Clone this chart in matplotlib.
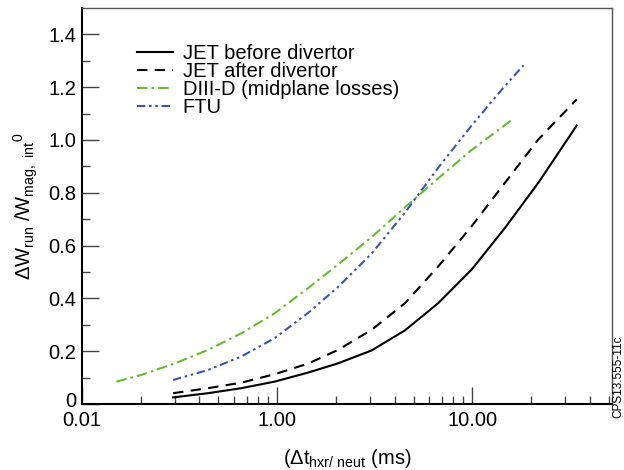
import matplotlib
matplotlib.use("Agg")
import matplotlib.pyplot as plt
import matplotlib.transforms as mtransforms
from matplotlib.ticker import FixedLocator, NullFormatter

plt.rcParams['font.family'] = ['Liberation Sans', 'DejaVu Sans']
plt.rcParams['mathtext.default'] = 'regular'

# runaway energy fraction vs. delay time (ms)
jet_before_t = [0.293, 0.443, 0.656, 0.973, 1.44, 2.05, 3.05, 4.52, 6.69, 9.92, 14.7, 21.8, 34.3]
jet_before_w = [0.025, 0.041, 0.060, 0.085, 0.119, 0.154, 0.203, 0.279, 0.382, 0.509, 0.667, 0.838, 1.055]

jet_after_t = [0.293, 0.443, 0.656, 0.973, 1.44, 2.05, 3.05, 4.52, 6.69, 9.92, 14.7, 21.8, 34.3]
jet_after_w = [0.041, 0.060, 0.081, 0.113, 0.153, 0.205, 0.281, 0.382, 0.521, 0.673, 0.838, 1.002, 1.154]

diiid_t = [0.150, 0.201, 0.299, 0.443, 0.656, 0.973, 1.44, 2.05, 3.05, 4.52, 6.69, 9.92, 16.2]
diiid_w = [0.085, 0.110, 0.154, 0.205, 0.268, 0.344, 0.439, 0.528, 0.632, 0.745, 0.855, 0.962, 1.080]

ftu_t = [0.293, 0.443, 0.656, 0.973, 1.44, 2.05, 3.05, 4.52, 6.69, 9.92, 14.7, 18.3]
ftu_w = [0.091, 0.129, 0.180, 0.250, 0.345, 0.443, 0.570, 0.725, 0.895, 1.055, 1.205, 1.283]

xticks = [0.1, 1.0, 10.0]
xticklabels = ["0.01", "1.00", "10.00"]
yticks = [0, 0.2, 0.4, 0.6, 0.8, 1.0, 1.2, 1.4]
yticklabels = ["0", "0.2", "0.4", "0.6", "0.8", "1.0", "1.2", "1.4"]

fig = plt.figure(figsize=(6.24, 4.70), dpi=100)
ax = fig.add_axes([0.1314, 0.1404, 0.8494, 0.8426])

ax.plot(jet_before_t, jet_before_w, color="black", lw=1.5, ls="-",
        label="JET before divertor")
ax.plot(jet_after_t, jet_after_w, color="black", lw=1.5, ls=(0, (5, 3.5)),
        label="JET after divertor")
ax.plot(diiid_t, diiid_w, color="#66bb33", lw=1.5, ls=(0, (5, 2, 1.2, 2)),
        label="DIII-D (midplane losses)")
ax.plot(ftu_t, ftu_w, color="#3a55b0", lw=1.5, ls=(0, (4, 1.8, 1.2, 1.8, 1.2, 1.8)),
        label="FTU")

ax.set_xscale("log")
ax.set_xlim(0.1, 52)
ax.set_ylim(0, 1.5)

ax.xaxis.set_major_locator(FixedLocator(xticks))
ax.set_xticklabels(xticklabels)
minor_x = [m * d for d in (0.1, 1.0, 10.0) for m in range(2, 10) if m * d < 52]
ax.xaxis.set_minor_locator(FixedLocator(minor_x))
ax.xaxis.set_minor_formatter(NullFormatter())

ax.set_yticks(yticks)
ax.set_yticklabels(yticklabels)
ax.set_yticks([0.1, 0.3, 0.5, 0.7, 0.9, 1.1, 1.3], minor=True)

ax.tick_params(axis="both", which="major", direction="in", length=12, width=1.0,
               labelsize=14.5, color="#444444")
ax.tick_params(axis="both", which="minor", direction="in", length=6, width=1.0,
               color="#444444")
ax.tick_params(axis="x", pad=5)
ax.tick_params(axis="y", pad=4)

# lift the "0" label a little so it clears "0.01"
zero_lbl = ax.get_yticklabels()[0]
zero_lbl.set_transform(zero_lbl.get_transform() +
                       mtransforms.ScaledTranslation(0, 5 / 100, fig.dpi_scale_trans))

ax.spines["left"].set_linewidth(1.5)
ax.spines["bottom"].set_linewidth(1.5)
for s in ("top", "right"):
    ax.spines[s].set_linewidth(1.0)
    ax.spines[s].set_color("#555555")

ax.set_xlabel(r"($\Delta$t$_{hxr/\ neut}$ (ms)", fontsize=14.5, labelpad=12)
ax.set_ylabel(r"$\Delta$W$_{run}$ /W$_{mag,\ int}$$^{0}$", fontsize=14.5, labelpad=6)

leg = ax.legend(loc="upper left", bbox_to_anchor=(0.089, 0.93), frameon=False,
                fontsize=14.5, handlelength=1.8, handletextpad=0.45,
                labelspacing=-0.05, borderaxespad=0)

fig.text(0.9915, 0.111, "CPS13.555-11c", rotation=90, fontsize=8.5,
         ha="center", va="bottom")

fig.savefig("out.png", dpi=100)
